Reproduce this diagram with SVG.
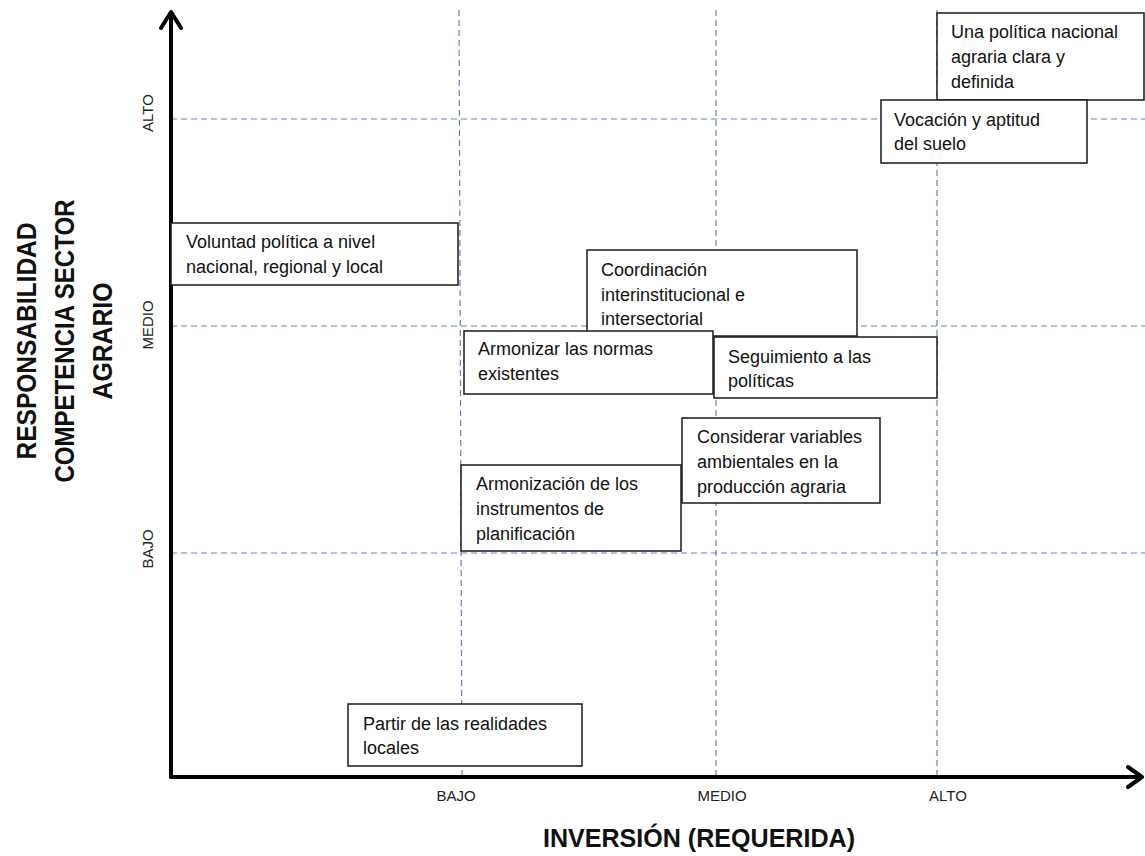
<svg xmlns="http://www.w3.org/2000/svg" width="1145" height="856" viewBox="0 0 1145 856">
<style>
.grid{stroke:#6a82b0;stroke-width:1.2;stroke-dasharray:6 4;fill:none}
.axis{stroke:#000;stroke-width:4;fill:none;stroke-linecap:round;stroke-linejoin:round}
.box{fill:#fff;stroke:#1a1a1a;stroke-width:1.5}
.t{font-family:"Liberation Sans",Arial,sans-serif;font-size:18px;fill:#111}
.tick{font-family:"Liberation Sans",Arial,sans-serif;font-size:15px;fill:#222}
.title{font-family:"Liberation Sans",Arial,sans-serif;font-weight:bold;fill:#111}
</style>
<rect width="1145" height="856" fill="#fff"/>
<g id="grid">
<line class="grid" x1="171" y1="119" x2="1145" y2="119"/>
<line class="grid" x1="171" y1="326" x2="1145" y2="326"/>
<line class="grid" x1="171" y1="553" x2="1145" y2="553"/>
<line class="grid" x1="459" y1="10" x2="462" y2="777"/>
<line class="grid" x1="716" y1="10" x2="716" y2="777"/>
<line class="grid" x1="937" y1="10" x2="937" y2="777"/>
</g>
<g id="axes">
<line class="axis" x1="171" y1="14" x2="171" y2="777"/>
<line class="axis" x1="171" y1="777" x2="1140" y2="777"/>
<polyline class="axis" points="161,28 171,12 181,28"/>
<polyline class="axis" points="1128,767 1142,777 1128,787"/>
</g>
<g id="axis-labels">
<text class="tick" text-anchor="middle" transform="translate(153,113) rotate(-90)">ALTO</text>
<text class="tick" text-anchor="middle" transform="translate(153,325) rotate(-90)">MEDIO</text>
<text class="tick" text-anchor="middle" transform="translate(153,549) rotate(-90)">BAJO</text>
<text class="tick" text-anchor="middle" x="456" y="801">BAJO</text>
<text class="tick" text-anchor="middle" x="722" y="801">MEDIO</text>
<text class="tick" text-anchor="middle" x="948" y="801">ALTO</text>
<text class="title" font-size="25" text-anchor="middle" x="699" y="847" textLength="312" lengthAdjust="spacingAndGlyphs">INVERSIÓN  (REQUERIDA)</text>
<g class="title" font-size="28" text-anchor="middle">
<text transform="translate(36,341) rotate(-90)" textLength="237" lengthAdjust="spacingAndGlyphs">RESPONSABILIDAD</text>
<text transform="translate(74,341) rotate(-90)" textLength="283" lengthAdjust="spacingAndGlyphs">COMPETENCIA  SECTOR</text>
<text transform="translate(112,341) rotate(-90)" textLength="117" lengthAdjust="spacingAndGlyphs">AGRARIO</text>
</g>
</g>
<g id="n-politica">
<rect class="box" x="937" y="13" width="207" height="87"/>
<text class="t" x="951" y="38">Una política nacional</text>
<text class="t" x="951" y="63">agraria clara y</text>
<text class="t" x="951" y="88">definida</text>
</g>
<g id="n-vocacion">
<rect class="box" x="881" y="100" width="206" height="63"/>
<text class="t" x="894" y="126">Vocación y aptitud</text>
<text class="t" x="894" y="150">del suelo</text>
</g>
<g id="n-voluntad">
<rect class="box" x="171" y="223" width="287" height="62"/>
<text class="t" x="186" y="248">Voluntad política a nivel</text>
<text class="t" x="186" y="273">nacional, regional y local</text>
</g>
<g id="n-coordinacion">
<rect class="box" x="587" y="250" width="270" height="86"/>
<text class="t" x="601" y="276">Coordinación</text>
<text class="t" x="601" y="301">interinstitucional e</text>
<text class="t" x="601" y="325">intersectorial</text>
</g>
<g id="n-armonizar">
<rect class="box" x="464" y="331" width="249" height="63"/>
<text class="t" x="478" y="355">Armonizar las normas</text>
<text class="t" x="478" y="380">existentes</text>
</g>
<g id="n-seguimiento">
<rect class="box" x="714" y="337" width="223" height="61"/>
<text class="t" x="728" y="363">Seguimiento a las</text>
<text class="t" x="728" y="387">políticas</text>
</g>
<g id="n-considerar">
<rect class="box" x="682" y="418" width="198" height="85"/>
<text class="t" x="697" y="443">Considerar variables</text>
<text class="t" x="697" y="468">ambientales en la</text>
<text class="t" x="697" y="493">producción agraria</text>
</g>
<g id="n-armonizacion">
<rect class="box" x="461" y="465" width="220" height="86"/>
<text class="t" x="476" y="490">Armonización de los</text>
<text class="t" x="476" y="515">instrumentos de</text>
<text class="t" x="476" y="540">planificación</text>
</g>
<g id="n-partir">
<rect class="box" x="348" y="704" width="234" height="62"/>
<text class="t" x="363" y="730">Partir de las realidades</text>
<text class="t" x="363" y="754">locales</text>
</g>
</svg>
